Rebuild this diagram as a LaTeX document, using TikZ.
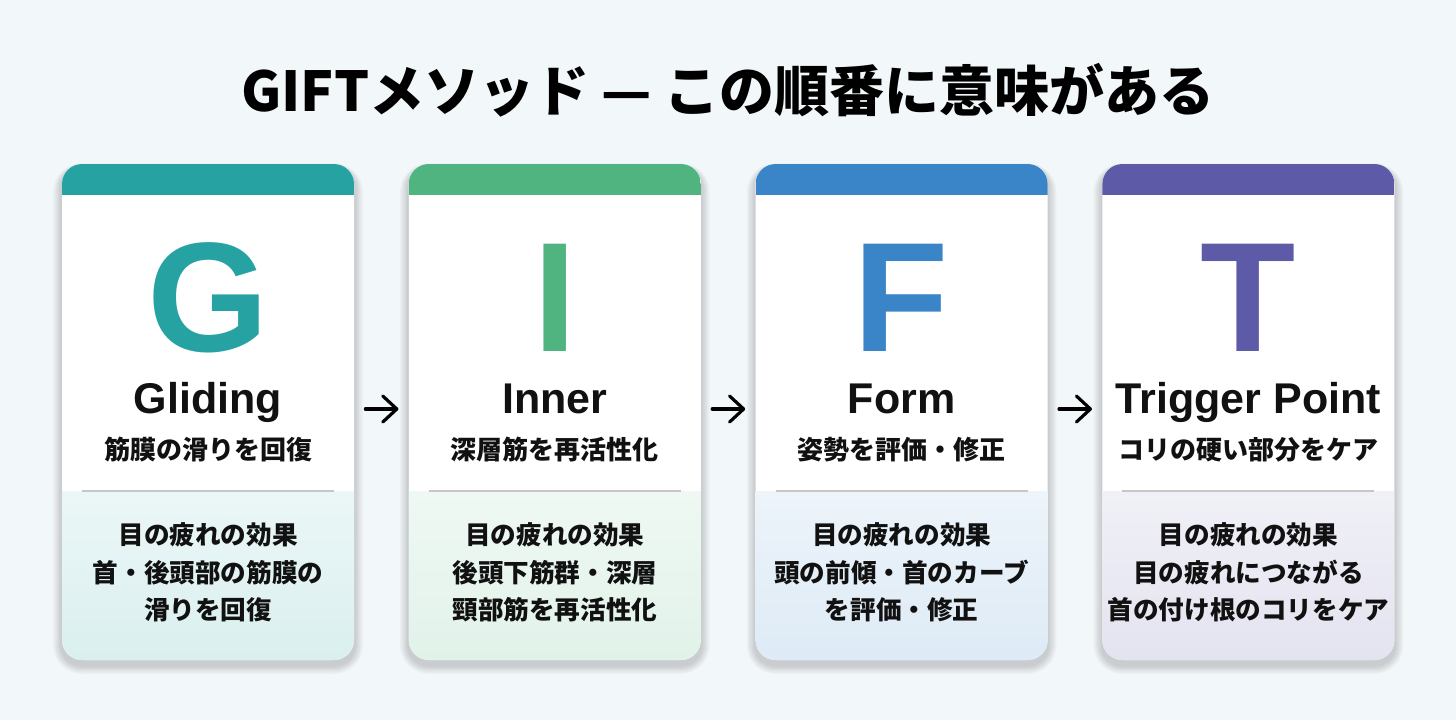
\documentclass[tikz,border=0pt]{standalone}
\usepackage{fontspec}
\setmainfont{Liberation Sans}
\newfontfamily\jpfont{Noto Sans CJK JP}
\usetikzlibrary{positioning,arrows.meta}

\pgfdeclarelayer{background}
\pgfsetlayers{background,main}

\definecolor{bgcol}{HTML}{F2F7F9}
\definecolor{gcol}{HTML}{27A2A2}
\definecolor{icol}{HTML}{4FB47F}
\definecolor{fcol}{HTML}{3985C8}
\definecolor{tcol}{HTML}{5D5AA7}
\definecolor{inkcol}{HTML}{111111}

\tikzset{
  card/.style = {rectangle, rounded corners=10pt, fill=white, inner sep=0pt,
    minimum width=146pt, minimum height=248pt,
    path picture={
      \fill[#1, sharp corners] (path picture bounding box.north west) rectangle ([yshift=-15.5pt]path picture bounding box.north east);
      \shade[top color=#1!9, bottom color=#1!17, sharp corners] ([yshift=-163.5pt]path picture bounding box.north west) rectangle (path picture bounding box.south east);
      \draw[black!22, line width=0.6pt] ([xshift=10pt,yshift=-163.5pt]path picture bounding box.north west) -- ([xshift=-10pt,yshift=-163.5pt]path picture bounding box.north east);
    }},
  cardshadow/.style = {fill=black!70!bgcol, fill opacity=0.035},
  bigletter/.style = {text=#1, font=\fontsize{78}{78}\selectfont\bfseries, inner sep=0pt, anchor=base},
  cardname/.style  = {text=inkcol, font=\fontsize{21.5}{24}\selectfont\bfseries, inner sep=0pt, anchor=base},
  cardsub/.style   = {text=inkcol, font=\jpfont\fontsize{13}{16}\selectfont\bfseries, inner sep=0pt},
  cardnote/.style  = {text=inkcol, font=\jpfont\fontsize{12.8}{18.75}\selectfont\bfseries, align=center, inner sep=0pt},
  titletext/.style = {text=black, font=\jpfont\fontsize{27.5}{30}\selectfont\bfseries, inner sep=0pt},
  flowarrow/.style = {-{Straight Barb[length=7pt,width=13pt,line cap=round,line join=round]}, line width=1.6pt, line cap=round, black,
    shorten <=5.5pt, shorten >=5pt}
}

\begin{document}
\begin{tikzpicture}
\useasboundingbox (0,0) rectangle (728pt,-360pt);

\node[titletext] (title) at (364pt,-45pt) {GIFTメソッド — この順番に意味がある};

% the four cards
\node[card=gcol] (cardG) at (104pt,-206pt) {};
\node[card=icol, right=27pt of cardG] (cardI) {};
\node[card=fcol, right=27pt of cardI] (cardF) {};
\node[card=tcol, right=27pt of cardF] (cardT) {};

% soft shadows under the cards
\begin{pgfonlayer}{background}
\fill[bgcol] (0,0) rectangle (728pt,-360pt);
\foreach \c in {cardG,cardI,cardF,cardT}
  \foreach \k in {1,...,7}
    \fill[cardshadow, rounded corners=10pt+0.6*\k pt]
      ([xshift=-0.6*\k pt, yshift=-2pt+0.3*\k pt]\c.north west) rectangle ([xshift=0.6*\k pt, yshift=-2.5pt-0.6*\k pt]\c.south east);
\end{pgfonlayer}

\node[bigletter=gcol] (letG) at ([yshift=-94pt]cardG.north) {G};
\node[cardname] (nameG) at ([yshift=-125pt]cardG.north) {Gliding};
\node[cardsub] (subG) at ([yshift=-143pt]cardG.north) {筋膜の滑りを回復};
\node[cardnote] (noteG) at ([yshift=-204.5pt]cardG.north) {目の疲れの効果\\首・後頭部の筋膜の\\滑りを回復};

\node[bigletter=icol] (letI) at ([yshift=-94pt]cardI.north) {I};
\node[cardname] (nameI) at ([yshift=-125pt]cardI.north) {Inner};
\node[cardsub] (subI) at ([yshift=-143pt]cardI.north) {深層筋を再活性化};
\node[cardnote] (noteI) at ([yshift=-204.5pt]cardI.north) {目の疲れの効果\\後頭下筋群・深層\\頸部筋を再活性化};

\node[bigletter=fcol] (letF) at ([yshift=-94pt]cardF.north) {F};
\node[cardname] (nameF) at ([yshift=-125pt]cardF.north) {Form};
\node[cardsub] (subF) at ([yshift=-143pt]cardF.north) {姿勢を評価・修正};
\node[cardnote] (noteF) at ([yshift=-204.5pt]cardF.north) {目の疲れの効果\\頭の前傾・首のカーブ\\を評価・修正};

\node[bigletter=tcol] (letT) at ([yshift=-94pt]cardT.north) {T};
\node[cardname] (nameT) at ([yshift=-125pt]cardT.north) {Trigger Point};
\node[cardsub] (subT) at ([yshift=-143pt]cardT.north) {コリの硬い部分をケア};
\node[cardnote] (noteT) at ([yshift=-204.5pt]cardT.north) {目の疲れの効果\\目の疲れにつながる\\首の付け根のコリをケア};

\draw[flowarrow] ([yshift=1.5pt]cardG.east) -- ([yshift=1.5pt]cardI.west);
\draw[flowarrow] ([yshift=1.5pt]cardI.east) -- ([yshift=1.5pt]cardF.west);
\draw[flowarrow] ([yshift=1.5pt]cardF.east) -- ([yshift=1.5pt]cardT.west);
\end{tikzpicture}
\end{document}
